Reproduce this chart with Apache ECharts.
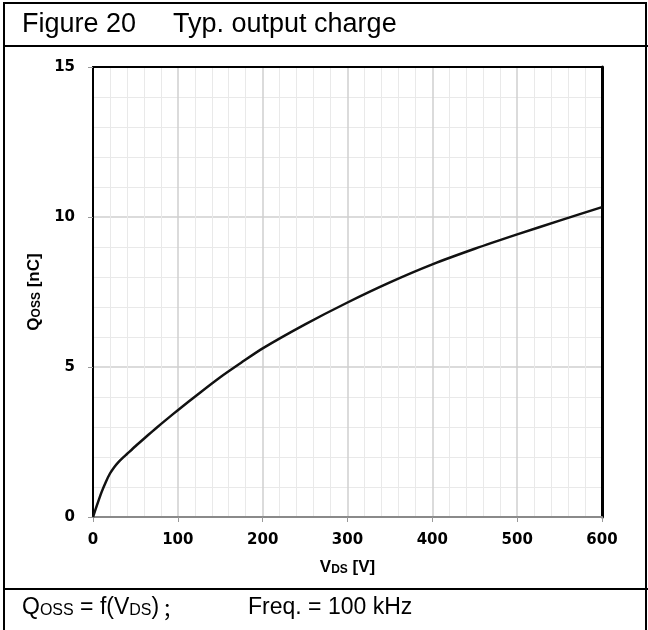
<!DOCTYPE html>
<html>
<head>
<meta charset="utf-8">
<script src="https://cdn.jsdelivr.net/npm/echarts@6/dist/echarts.min.js"></script>
<style>
  html, body { margin: 0; padding: 0; background: #fff; }
  #chart { width: 648px; height: 630px; }
</style>
</head>
<body>
<div id="chart"></div>
<script>
// Drain-source voltage V_DS [V]
const vds = [0, 5, 10, 15, 20, 25, 30, 35, 40, 50, 60, 70, 80, 90, 100, 125, 150, 175, 200,
             250, 300, 350, 400, 450, 500, 550, 600];
// Output charge Q_OSS [nC]
const qoss = [0, 0.42, 0.82, 1.16, 1.45, 1.66, 1.83, 1.97, 2.1, 2.36, 2.61, 2.855, 3.095, 3.33, 3.56,
              4.12, 4.66, 5.15, 5.62, 6.42, 7.15, 7.82, 8.42, 8.94, 9.42, 9.88, 10.33];
const xTicks = { min: 0, max: 600, step: 100 };
const yTicks = { min: 0, max: 15, step: 5 };

const points = vds.map((v, i) => [v, qoss[i]]);

const chart = echarts.init(document.getElementById('chart'), null, { renderer: 'canvas' });

const tickFont = { fontFamily: 'DejaVu Sans', fontWeight: 'bold', fontSize: 15, color: '#000' };
const nameRich = {
  a: { fontFamily: 'Liberation Sans', fontWeight: 'bold', fontSize: 17, color: '#000', verticalAlign: 'bottom' },
  b: { fontFamily: 'Liberation Sans', fontWeight: 'bold', fontSize: 12, color: '#000', verticalAlign: 'bottom' }
};
const footRich = {
  n: { fontFamily: 'Liberation Sans', fontSize: 23, fill: '#000', verticalAlign: 'bottom' },
  s: { fontFamily: 'Liberation Sans', fontSize: 16, fill: '#000', verticalAlign: 'bottom', padding: [0, 0, 1, 0] },
  c: { fontFamily: 'Noto Sans CJK SC', fontSize: 20, fill: '#000', verticalAlign: 'bottom', padding: [0, 0, 0, 3] }
};

chart.setOption({
  animation: false,
  backgroundColor: '#fff',
  grid: { left: 93, right: 46, top: 67, bottom: 113, containLabel: false },
  xAxis: [{
    type: 'value', min: xTicks.min, max: xTicks.max, interval: xTicks.step,
    name: '{a|V}{b|DS}{a| [V]}', nameLocation: 'middle', nameGap: 42,
    nameTextStyle: { rich: nameRich },
    axisLine: { show: true, lineStyle: { color: '#8a8a8a', width: 2 } },
    axisTick: { show: true, length: 5, lineStyle: { color: '#999', width: 1 } },
    axisLabel: Object.assign({ margin: 16 }, tickFont),
    splitLine: { show: true, lineStyle: { color: '#cfcfcf', width: 1.5 } },
    minorTick: { show: false, splitNumber: 5 },
    minorSplitLine: { show: true, lineStyle: { color: '#e9e9e9', width: 1 } }
  }, {
    type: 'value', position: 'top', min: xTicks.min, max: xTicks.max,
    axisLine: { show: true, onZero: false, lineStyle: { color: '#000', width: 2 } },
    axisTick: { show: false }, axisLabel: { show: false }, splitLine: { show: false }
  }],
  yAxis: [{
    type: 'value', min: yTicks.min, max: yTicks.max, interval: yTicks.step,
    name: '{a|Q}{b|OSS}{a| [nC]}', nameLocation: 'middle', nameGap: 50, nameRotate: 90,
    nameTextStyle: { rich: nameRich },
    axisLine: { show: true, lineStyle: { color: '#000', width: 2 } },
    axisTick: { show: true, length: 5, lineStyle: { color: '#999', width: 1 } },
    axisLabel: Object.assign({ margin: 18 }, tickFont),
    splitLine: { show: true, lineStyle: { color: '#cfcfcf', width: 1.5 } },
    minorTick: { show: false, splitNumber: 5 },
    minorSplitLine: { show: true, lineStyle: { color: '#e9e9e9', width: 1 } }
  }, {
    type: 'value', position: 'right', min: yTicks.min, max: yTicks.max,
    axisLine: { show: true, onZero: false, lineStyle: { color: '#000', width: 3 } },
    axisTick: { show: false }, axisLabel: { show: false }, splitLine: { show: false }
  }],
  series: [{
    type: 'line',
    data: points,
    smooth: 0.25,
    showSymbol: false,
    lineStyle: { color: '#111', width: 2.5 },
    z: 5
  }],
  graphic: [
    // outer frame
    { type: 'rect', shape: { x: 4, y: 3, width: 642, height: 640 },
      style: { fill: null, stroke: '#000', lineWidth: 2 }, silent: true },
    // header / footer separators
    { type: 'line', shape: { x1: 4, y1: 46, x2: 648, y2: 46 },
      style: { stroke: '#000', lineWidth: 2 }, silent: true },
    { type: 'line', shape: { x1: 4, y1: 589, x2: 648, y2: 589 },
      style: { stroke: '#000', lineWidth: 2 }, silent: true },
    { type: 'text', x: 22, y: 25,
      style: { text: 'Figure 20', fontFamily: 'Liberation Sans', fontSize: 27, fill: '#000',
               textVerticalAlign: 'middle' } },
    { type: 'text', x: 173, y: 25,
      style: { text: 'Typ. output charge', fontFamily: 'Liberation Sans', fontSize: 27, fill: '#000',
               textVerticalAlign: 'middle' } },
    { type: 'text', x: 22, y: 608,
      style: {
        text: '{n|Q}{s|OSS}{n| = f(V}{s|DS}{n|)}{c|；}',
        textVerticalAlign: 'middle',
        rich: footRich
      } },
    { type: 'text', x: 248, y: 608,
      style: {
        text: '{n|Freq. = 100 kHz}',
        textVerticalAlign: 'middle',
        rich: footRich
      } }
  ]
});
</script>
</body>
</html>
